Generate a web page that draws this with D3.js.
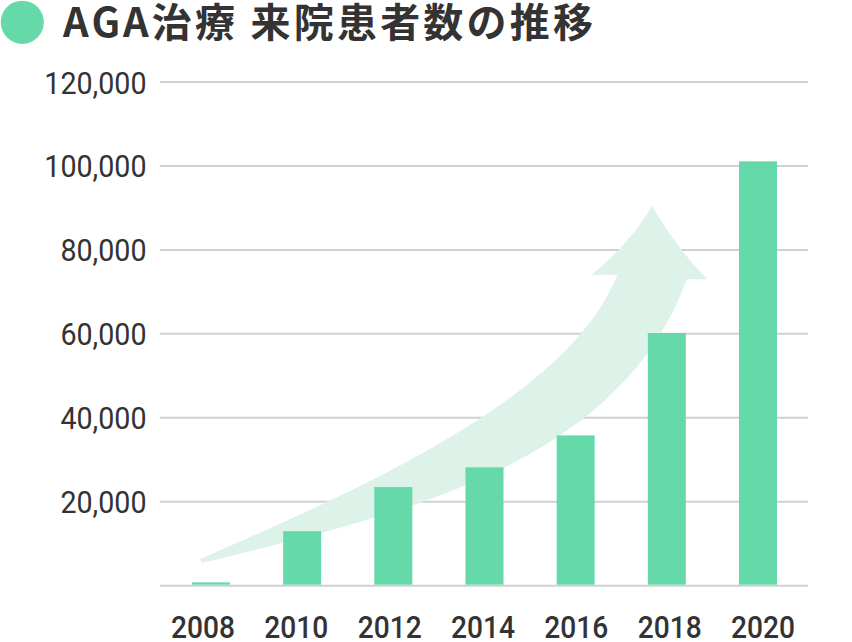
<!DOCTYPE html>
<html>
<head>
<meta charset="utf-8">
<script src="https://cdn.jsdelivr.net/npm/d3@7"></script>
<style>
  html, body { margin: 0; padding: 0; background: #ffffff; }
  svg { display: block; }
</style>
</head>
<body>
<svg id="chart" width="852" height="642"></svg>
<script>
// ---- data ----
const years = ["2008", "2010", "2012", "2014", "2016", "2018", "2020"];
const patients = [800, 13000, 23500, 28200, 35800, 60200, 101100];
const yTicks = [20000, 40000, 60000, 80000, 100000, 120000];
const titleText = "AGA治療 来院患者数の推移";

// ---- layout ----
const W = 852, H = 642;
const barColor = "#66D9AA";
const arrowColor = "#DDF2E9";
const gridColor = "#D0D0D0";
const textColor = "#333333";

const svg = d3.select("#chart");

const y = d3.scaleLinear().domain([0, 120000]).range([585.7, 82]);
const x = d3.scaleBand().domain(years).range([165.4, 803.6]).paddingInner(0.583).paddingOuter(0.2915);
const xLabel = d3.scalePoint().domain(years).range([203, 763]);
const gridX0 = 160, gridX1 = 808;

// ---- title ----
svg.append("circle").attr("cx", 22.3).attr("cy", 22.3).attr("r", 21.6).attr("fill", barColor);
svg.append("text")
  .attr("x", 63).attr("y", 36.5)
  .attr("font-family", "'Noto Sans CJK JP', 'Noto Sans', sans-serif")
  .attr("font-weight", 700).attr("font-size", 40)
  .attr("fill", textColor)
  .attr("textLength", 530).attr("lengthAdjust", "spacing")
  .text(titleText);

// ---- gridlines ----
const gridVals = [0].concat(yTicks);
svg.append("g").selectAll("line").data(gridVals).join("line")
  .attr("x1", gridX0).attr("x2", gridX1)
  .attr("y1", d => y(d)).attr("y2", d => y(d))
  .attr("stroke", gridColor).attr("stroke-width", 2);

// ---- y labels ----
const fmt = d3.format(",");
const yl = svg.append("g").selectAll("text").data(yTicks).join("text")
  .attr("x", 146.5).attr("y", d => y(d) + 11.5)
  .attr("text-anchor", "end")
  .attr("font-family", "Roboto, sans-serif").attr("font-weight", 400).attr("font-size", 32)
  .attr("fill", textColor)
  .text(d => fmt(d));
yl.each(function() {
  const w = this.getComputedTextLength();
  d3.select(this).attr("textLength", w * 0.895).attr("lengthAdjust", "spacingAndGlyphs");
});

// ---- decorative arrow ----
const p = d3.path();
p.moveTo(200, 559);
p.bezierCurveTo(400, 473, 573, 387, 617.3, 274.7);
p.lineTo(591.7, 274.7);
p.quadraticCurveTo(628, 245.7, 652.3, 206);
p.quadraticCurveTo(675, 246.3, 707.3, 279.3);
p.lineTo(686.7, 279.3);
p.bezierCurveTo(618.7, 467.3, 396, 515, 202, 563);
p.closePath();
svg.append("path").attr("d", p.toString()).attr("fill", arrowColor);

// ---- bars ----
svg.append("g").selectAll("rect").data(years).join("rect")
  .attr("x", d => x(d))
  .attr("width", x.bandwidth())
  .attr("y", (d, i) => y(patients[i]))
  .attr("height", (d, i) => y(0) - 1 - y(patients[i]))
  .attr("fill", barColor);

// ---- x labels ----
const xl = svg.append("g").selectAll("text").data(years).join("text")
  .attr("x", d => xLabel(d)).attr("y", 638.3)
  .attr("text-anchor", "middle")
  .attr("font-family", "Roboto, sans-serif").attr("font-weight", 500).attr("font-size", 32)
  .attr("fill", textColor)
  .text(d => d);
xl.each(function() {
  const w = this.getComputedTextLength();
  d3.select(this).attr("textLength", w * 0.88).attr("lengthAdjust", "spacingAndGlyphs");
});
</script>
</body>
</html>
